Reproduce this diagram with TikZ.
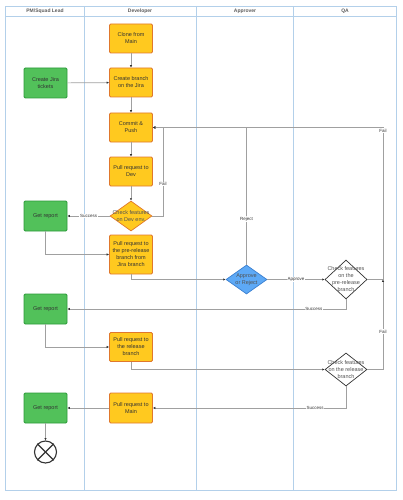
\documentclass[tikz,border=0pt]{standalone}
\usepackage{fontspec}
\setmainfont{Liberation Sans}
\usetikzlibrary{shapes.geometric,arrows.meta}
\definecolor{lane}{HTML}{B3D0EA}
\definecolor{yfill}{HTML}{FFC91F}
\definecolor{ydraw}{HTML}{E0782C}
\definecolor{gfill}{HTML}{52C15A}
\definecolor{gdraw}{HTML}{2C9A3A}
\definecolor{bfill}{HTML}{5DA9F6}
\definecolor{bdraw}{HTML}{3A7FD0}
\definecolor{conncol}{HTML}{A0A0A0}
\definecolor{txt}{HTML}{333333}
\tikzset{
  lanel/.style={draw=lane, line width=0.7pt},
  head/.style={font=\fontsize{5}{6}\selectfont\bfseries, text=txt!80},
  ybox/.style={draw=ydraw, fill=yfill, line width=0.8pt, rounded corners=1.2pt, minimum width=43pt, minimum height=29pt, inner sep=0pt, align=center, text=txt, font=\fontsize{5.5}{7}\selectfont},
  gbox/.style={draw=gdraw, fill=gfill, line width=0.8pt, rounded corners=1.2pt, minimum width=43pt, minimum height=30pt, inner sep=0pt, align=center, text=txt, font=\fontsize{5.5}{7}\selectfont},
  dia/.style={diamond, draw, line width=0.7pt, inner sep=0pt},
  dtext/.style={align=center, text=txt!85, font=\fontsize{5.5}{7}\selectfont, inner sep=0pt},
  conn/.style={draw=conncol, line width=0.7pt, -{Latex[length=2.4pt,width=2.4pt,color=txt]}},
  lab/.style={fill=white, inner sep=0.6pt, text=txt, font=\fontsize{4.5}{5}\selectfont},
}
\begin{document}
\begin{tikzpicture}[x=1pt,y=-1pt]
\useasboundingbox (0,0) rectangle (403,500);
% lanes
\draw[lanel] (5,6) rectangle (396,490);
\draw[lanel] (5,16) -- (396,16);
\draw[lanel] (84,6) -- (84,490);
\draw[lanel] (196,6) -- (196,490);
\draw[lanel] (293,6) -- (293,490);
\node[head] (h1) at (45,11) {PM/Squad Lead};
\node[head] (h2) at (140,11) {Developer};
\node[head] (h3) at (245,11) {Approver};
\node[head] (h4) at (345,11) {QA};
% nodes
\node[ybox] (clone) at (131,38.5) {Clone from\\Main};
\node[gbox] (jira) at (45.5,83) {Create Jira\\tickets};
\node[ybox] (cb) at (131,82.5) {Create branch\\on the Jira};
\node[ybox] (commit) at (131,127.5) {Commit \&\\Push};
\node[ybox] (prdev) at (131,171.5) {Pull request to\\Dev};
\node[dia, draw=ydraw, fill=yfill, minimum width=42pt, minimum height=30pt] (cdev) at (131,216) {};
\node[dtext] (cdevt) at (cdev) {Check features\\on Dev env.};
\node[gbox] (gr1) at (45.5,216) {Get report};
\node[ybox, minimum height=39pt] (prpre) at (131,254.5) {Pull request to\\the pre-release\\branch from\\Jira branch};
\node[dia, draw=bdraw, fill=bfill, minimum width=41pt, minimum height=29pt] (appr) at (246.5,279.5) {};
\node[dtext] (apprt) at (appr) {Approve\\or Reject};
\node[dia, draw=txt, fill=white, minimum width=42pt, minimum height=39pt] (cpre) at (346,279.5) {};
\node[dtext] (cpret) at (cpre) {Check features\\on the\\pre-release\\branch};
\node[gbox] (gr2) at (45.5,309) {Get report};
\node[ybox] (prrel) at (131,347) {Pull request to\\the release\\branch};
\node[dia, draw=txt, fill=white, minimum width=42pt, minimum height=33pt] (crel) at (346,369.5) {};
\node[dtext] (crelt) at (crel) {Check features\\on the release\\branch};
\node[gbox] (gr3) at (45.5,408) {Get report};
\node[ybox, minimum height=30pt] (prmain) at (131,408) {Pull request to\\Main};
\node[circle, draw=txt, line width=1.1pt, minimum size=22pt, inner sep=0pt] (endn) at (45.5,452) {};
\draw[draw=txt, line width=1.1pt] (endn.north west) -- (endn.south east);
\draw[draw=txt, line width=1.1pt] (endn.north east) -- (endn.south west);
% connectors
\draw[conn] (clone) -- (cb);
\draw[conn] (jira) -- (cb);
\draw[conn] (cb) -- (commit);
\draw[conn] (commit) -- (prdev);
\draw[conn] (prdev) -- (cdev);
\draw[conn] (cdev.west) -- node[lab]{Success} (gr1.east);
\draw[conn] (cdev.east) -- (163,216) -- node[lab,pos=0.36]{Fail} (163,127.5) -- (commit.east);
\draw[conn] (appr.north) |- node[lab,pos=0.167]{Reject} (commit.east);
\draw[conn] (cpre.east) -- (383,279.5) -- node[lab,pos=0.98]{Fail} (383,127.5) -- (commit.east);
\draw[conn] (crel.east) -- (383,369.5) -- node[lab,pos=0.42]{Fail} (383,279.5);
\draw[conn] (gr1.south) |- (prpre.west);
\draw[conn] (prpre.south) |- (appr.west);
\draw[conn] (appr.east) -- node[lab]{Approve} (cpre.west);
\draw[conn] (cpre.south) -- (346,309) -- node[lab,pos=0.115]{Success} (gr2.east);
\draw[conn] (gr2.south) |- (prrel.west);
\draw[conn] (prrel.south) |- (crel.west);
\draw[conn] (crel.south) |- node[lab,pos=0.58]{Success} (prmain.east);
\draw[conn] (prmain) -- (gr3);
\draw[conn] (gr3) -- (endn);
\end{tikzpicture}
\end{document}
